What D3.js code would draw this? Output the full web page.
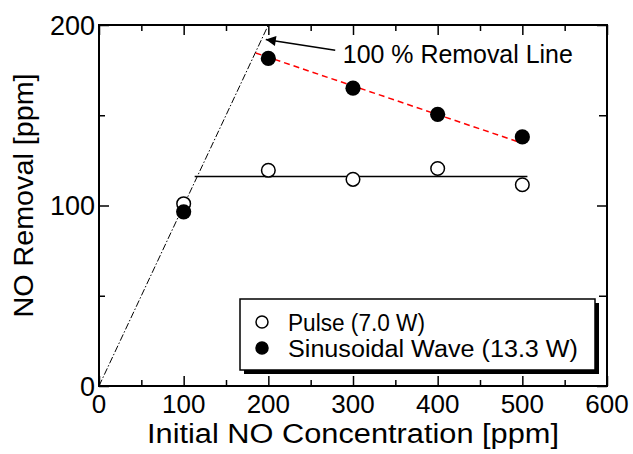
<!DOCTYPE html>
<html>
<head>
<meta charset="utf-8">
<script src="https://cdn.jsdelivr.net/npm/d3@7"></script>
<style>
  body { margin: 0; background: #fff; }
  text { font-family: "Liberation Sans", Arial, sans-serif; fill: #000; }
</style>
</head>
<body>
<script>
var width = 633,
    height = 454;

// data
var concentrations = [100, 200, 300, 400, 500];
var pulse = [101, 119.5, 114.5, 120.5, 111.5];
var sinusoidal = [96.5, 181.5, 165, 150.5, 138];
var xTicks = [0, 100, 200, 300, 400, 500, 600];
var yTicks = [0, 100, 200];
var removalLine = [[0, 0], [200, 200]];
var pulseFit = [[113, 116], [506, 116]];
var sinFit = [[185, 184.5], [500, 134.5]];
var arrowTail = [279, 186], arrowTip = [197, 192];
var labelPos = [288, 179];
var legendNames = ["Pulse (7.0 W)", "Sinusoidal Wave (13.3 W)"];
var legendWidths = [137, 290];

var margin = {top: 25, right: 26, bottom: 68, left: 99};
var w = width - margin.left - margin.right,
    h = height - margin.top - margin.bottom;

var svg = d3.select("body").append("svg")
    .attr("width", width)
    .attr("height", height);

var defs = svg.append("defs");
defs.append("marker")
    .attr("id", "arrow")
    .attr("viewBox", "0 0 10 10")
    .attr("refX", 10).attr("refY", 5)
    .attr("markerWidth", 17).attr("markerHeight", 10)
    .attr("markerUnits", "userSpaceOnUse")
    .attr("orient", "auto")
  .append("path")
    .attr("d", "M0,0L10,5L0,10Z")
    .attr("fill", "#000");

var g = svg.append("g")
    .attr("transform", "translate(" + margin.left + "," + margin.top + ")");

var x = d3.scaleLinear().domain([0, 600]).range([0, w]);
var y = d3.scaleLinear().domain([0, 200]).range([h, 0]);

var xMinor = d3.range(50, 600, 100);
var yMinor = [50, 150];

// ticks on all four sides, pointing inward
function ticks(axis, vals, len) {
  return axis.tickValues(vals).tickSize(len).tickFormat("");
}
g.append("g").attr("transform", "translate(0," + h + ")").call(ticks(d3.axisTop(x), xTicks, 10));
g.append("g").attr("transform", "translate(0," + h + ")").call(ticks(d3.axisTop(x), xMinor, 6));
g.append("g").call(ticks(d3.axisBottom(x), xTicks, 10));
g.append("g").call(ticks(d3.axisBottom(x), xMinor, 6));
g.append("g").call(ticks(d3.axisRight(y), yTicks, 10));
g.append("g").call(ticks(d3.axisRight(y), yMinor, 6));
g.append("g").attr("transform", "translate(" + w + ",0)").call(ticks(d3.axisLeft(y), yTicks, 10));
g.append("g").attr("transform", "translate(" + w + ",0)").call(ticks(d3.axisLeft(y), yMinor, 8));
g.selectAll(".domain").remove();
g.selectAll(".tick line").attr("stroke", "#000").attr("stroke-width", 1.5);

g.append("rect")
    .attr("width", w).attr("height", h)
    .attr("fill", "none")
    .attr("stroke", "#000")
    .attr("stroke-width", 2);

// tick labels
g.selectAll(".xlab").data(xTicks).enter().append("text")
    .attr("x", function(d) { return x(d); })
    .attr("y", h + 27)
    .attr("text-anchor", "middle")
    .attr("font-size", 26)
    .text(function(d) { return d; });

g.selectAll(".ylab").data(yTicks).enter().append("text")
    .attr("x", -4)
    .attr("y", function(d) { return y(d) + 9.5; })
    .attr("text-anchor", "end")
    .attr("font-size", 27)
    .text(function(d) { return d; });

// axis titles
g.append("text")
    .attr("x", w / 2)
    .attr("y", h + 57)
    .attr("text-anchor", "middle")
    .attr("font-size", 27)
    .attr("textLength", 412)
    .attr("lengthAdjust", "spacingAndGlyphs")
    .text("Initial NO Concentration [ppm]");

svg.append("text")
    .attr("transform", "translate(33," + (margin.top + h / 2 - 10) + ") rotate(-90)")
    .attr("text-anchor", "middle")
    .attr("font-size", 28)
    .attr("textLength", 244)
    .attr("lengthAdjust", "spacingAndGlyphs")
    .text("NO Removal [ppm]");

var line = d3.line()
    .x(function(d) { return x(d[0]); })
    .y(function(d) { return y(d[1]); });

g.append("path")
    .attr("d", line(removalLine))
    .attr("fill", "none")
    .attr("stroke", "#000")
    .attr("stroke-width", 1)
    .attr("stroke-dasharray", "7,2,1.5,2");

g.append("path")
    .attr("d", line(pulseFit))
    .attr("fill", "none")
    .attr("stroke", "#000")
    .attr("stroke-width", 1.5);

g.append("path")
    .attr("d", line(sinFit))
    .attr("fill", "none")
    .attr("stroke", "#f00")
    .attr("stroke-width", 1.5)
    .attr("stroke-dasharray", "6,4");

// points
g.selectAll(".pulse").data(concentrations).enter().append("circle")
    .attr("cx", function(d) { return x(d); })
    .attr("cy", function(d, i) { return y(pulse[i]); })
    .attr("r", 6.8)
    .attr("fill", "#fff")
    .attr("stroke", "#000")
    .attr("stroke-width", 1.5);

g.selectAll(".sin").data(concentrations).enter().append("circle")
    .attr("cx", function(d) { return x(d); })
    .attr("cy", function(d, i) { return y(sinusoidal[i]); })
    .attr("r", 7.6)
    .attr("fill", "#000");

// annotation
g.append("line")
    .attr("x1", x(arrowTail[0])).attr("y1", y(arrowTail[1]))
    .attr("x2", x(arrowTip[0])).attr("y2", y(arrowTip[1]))
    .attr("stroke", "#000")
    .attr("stroke-width", 1.5)
    .attr("marker-end", "url(#arrow)");

g.append("text")
    .attr("x", x(labelPos[0]))
    .attr("y", y(labelPos[1]))
    .attr("font-size", 25)
    .attr("textLength", 230)
    .attr("lengthAdjust", "spacingAndGlyphs")
    .text("100 % Removal Line");

// legend
var lg = svg.append("g").attr("transform", "translate(240,299)");
lg.append("rect")
    .attr("x", 4).attr("y", 4)
    .attr("width", 355).attr("height", 71)
    .attr("fill", "#000");
lg.append("rect")
    .attr("width", 355).attr("height", 71)
    .attr("fill", "#fff")
    .attr("stroke", "#000")
    .attr("stroke-width", 1.5);

var items = lg.selectAll(".item").data(legendNames).enter().append("g")
    .attr("transform", function(d, i) { return "translate(0," + (23 + i * 26) + ")"; });
items.append("circle")
    .attr("cx", 22)
    .attr("r", 6)
    .attr("fill", function(d, i) { return i === 0 ? "#fff" : "#000"; })
    .attr("stroke", "#000")
    .attr("stroke-width", 1.5);
items.append("text")
    .attr("x", 48)
    .attr("y", 8.5)
    .attr("font-size", 23)
    .attr("textLength", function(d, i) { return legendWidths[i]; })
    .attr("lengthAdjust", "spacingAndGlyphs")
    .text(function(d) { return d; });
</script>
</body>
</html>
